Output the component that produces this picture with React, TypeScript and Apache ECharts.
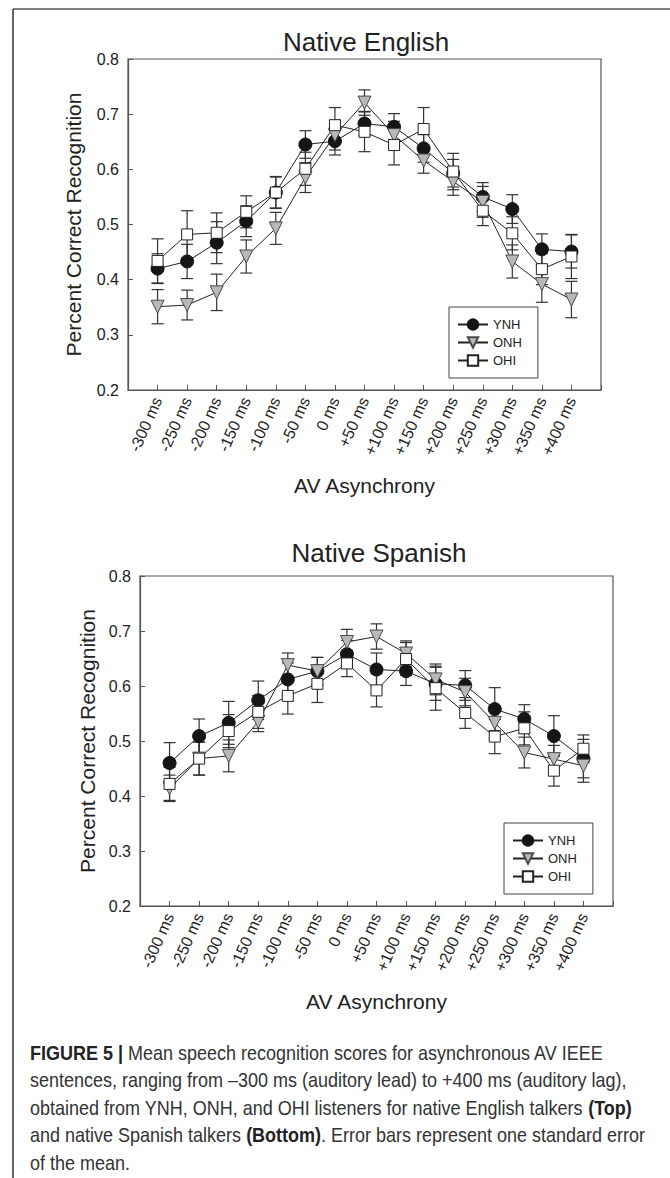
import React, { useEffect, useRef } from "react";
import * as echarts from "echarts";

const categories = ["-300 ms", "-250 ms", "-200 ms", "-150 ms", "-100 ms", "-50 ms", "0 ms", "+50 ms", "+100 ms", "+150 ms", "+200 ms", "+250 ms", "+300 ms", "+350 ms", "+400 ms"];
const groups = ["YNH", "ONH", "OHI"];

// Native English (top)
const engYNH = [0.42, 0.433, 0.467, 0.506, 0.558, 0.645, 0.651, 0.683, 0.677, 0.638, 0.593, 0.55, 0.528, 0.455, 0.451];
const engONH = [0.351, 0.354, 0.377, 0.442, 0.493, 0.585, 0.662, 0.721, 0.662, 0.616, 0.578, 0.541, 0.433, 0.392, 0.364];
const engOHI = [0.434, 0.482, 0.485, 0.523, 0.558, 0.601, 0.68, 0.668, 0.644, 0.673, 0.596, 0.525, 0.484, 0.419, 0.442];
const engYNHse = [0.027, 0.031, 0.038, 0.028, 0.028, 0.025, 0.025, 0.022, 0.024, 0.025, 0.025, 0.026, 0.026, 0.028, 0.03];
const engONHse = [0.031, 0.027, 0.033, 0.03, 0.029, 0.027, 0.027, 0.023, 0.025, 0.023, 0.025, 0.028, 0.03, 0.033, 0.033];
const engOHIse = [0.04, 0.043, 0.036, 0.029, 0.029, 0.03, 0.032, 0.036, 0.036, 0.039, 0.033, 0.027, 0.03, 0.028, 0.04];

// Native Spanish (bottom)
const spaYNH = [0.46, 0.509, 0.533, 0.574, 0.612, 0.627, 0.658, 0.63, 0.627, 0.604, 0.601, 0.558, 0.54, 0.509, 0.468];
const spaONH = [0.414, 0.468, 0.473, 0.535, 0.638, 0.627, 0.68, 0.69, 0.659, 0.612, 0.589, 0.533, 0.479, 0.467, 0.455];
const spaOHI = [0.422, 0.468, 0.518, 0.553, 0.582, 0.604, 0.641, 0.592, 0.649, 0.596, 0.551, 0.508, 0.523, 0.446, 0.486];
const spaYNHse = [0.037, 0.031, 0.039, 0.035, 0.03, 0.025, 0.025, 0.03, 0.026, 0.03, 0.027, 0.039, 0.026, 0.037, 0.035];
const spaONHse = [0.024, 0.03, 0.029, 0.018, 0.022, 0.025, 0.023, 0.023, 0.023, 0.028, 0.025, 0.03, 0.028, 0.025, 0.03];
const spaOHIse = [0.03, 0.03, 0.03, 0.03, 0.033, 0.034, 0.024, 0.03, 0.03, 0.04, 0.028, 0.031, 0.03, 0.028, 0.025];

const FONT = "Liberation Sans, Arial, Helvetica, sans-serif";

const symbolStyles: Record<string, any> = {
  YNH: { symbol: "circle", symbolSize: 13, symbolRotate: 0, itemStyle: { color: "#151515", borderColor: "#151515", borderWidth: 1 } },
  ONH: { symbol: "triangle", symbolSize: 13, symbolRotate: 180, itemStyle: { color: "#b8b8b8", borderColor: "#4a4a4a", borderWidth: 1 } },
  OHI: { symbol: "rect", symbolSize: 11, symbolRotate: 0, itemStyle: { color: "#ffffff", borderColor: "#222", borderWidth: 1 } },
};

function errorSeries(name: string, means: number[], se: number[], axisIndex: number) {
  return {
    type: "custom",
    name: name + " SE",
    xAxisIndex: axisIndex,
    yAxisIndex: axisIndex,
    z: 1,
    silent: true,
    encode: { x: 0, y: 1 },
    data: means.map((m, i) => [i, m, se[i]]),
    renderItem: (params: any, api: any) => {
      const x = api.value(0);
      const m = api.value(1);
      const s = api.value(2);
      const top = api.coord([x, m + s]);
      const bot = api.coord([x, m - s]);
      const hw = 6;
      const st = { stroke: "#333", lineWidth: 1.2 };
      return {
        type: "group",
        children: [
          { type: "line", shape: { x1: top[0], y1: top[1], x2: bot[0], y2: bot[1] }, style: st },
          { type: "line", shape: { x1: top[0] - hw, y1: top[1], x2: top[0] + hw, y2: top[1] }, style: st },
          { type: "line", shape: { x1: bot[0] - hw, y1: bot[1], x2: bot[0] + hw, y2: bot[1] }, style: st },
        ],
      };
    },
  };
}

function lineSeries(name: string, means: number[], axisIndex: number) {
  const s = symbolStyles[name];
  return {
    type: "line",
    name,
    xAxisIndex: axisIndex,
    yAxisIndex: axisIndex,
    z: 3,
    data: means.map((m, i) => [i, m]),
    symbol: s.symbol,
    symbolSize: s.symbolSize,
    symbolRotate: s.symbolRotate,
    itemStyle: s.itemStyle,
    lineStyle: { color: "#222", width: 1 },
    emphasis: { disabled: true },
  };
}

function xAxis(gridIndex: number) {
  return {
    type: "value",
    gridIndex,
    min: -1,
    max: 15,
    interval: 1,
    splitLine: { show: false },
    axisLine: { show: true, onZero: false, lineStyle: { color: "#555", width: 1.2 } },
    axisTick: { show: true, inside: true, length: 5, lineStyle: { color: "#555" } },
    axisLabel: {
      rotate: 66,
      margin: 8,
      fontSize: 16,
      color: "#222",
      fontFamily: FONT,
      formatter: (v: number) => (v >= 0 && v < categories.length ? categories[v] : ""),
    },
    name: "AV Asynchrony",
    nameLocation: "middle",
    nameGap: 85,
    nameTextStyle: { fontSize: 21, color: "#222", fontFamily: FONT },
  };
}

function yAxis(gridIndex: number, gap: number) {
  return {
    type: "value",
    gridIndex,
    min: 0.2,
    max: 0.8,
    interval: 0.1,
    splitLine: { show: false },
    axisLine: { show: true, onZero: false, lineStyle: { color: "#555", width: 1.2 } },
    axisTick: { show: true, inside: true, length: 5, lineStyle: { color: "#555" } },
    axisLabel: { margin: 9, fontSize: 16, color: "#222", fontFamily: FONT, formatter: (v: number) => v.toFixed(1) },
    name: "Percent Correct Recognition",
    nameLocation: "middle",
    nameGap: gap,
    nameTextStyle: { fontSize: 21, color: "#222", fontFamily: FONT },
  };
}

function legend(left: number, top: number) {
  return {
    data: groups,
    orient: "vertical",
    left,
    top,
    borderColor: "#444",
    borderWidth: 1,
    padding: [11, 16, 11, 8],
    itemWidth: 30,
    itemHeight: 13,
    itemGap: 5,
    selectedMode: false,
    textStyle: { fontSize: 13, color: "#222", fontFamily: FONT },
  };
}

const captionLines = [
  "{b|FIGURE 5 |} Mean speech recognition scores for asynchronous AV IEEE",
  "sentences, ranging from –300 ms (auditory lead) to +400 ms (auditory lag),",
  "obtained from YNH, ONH, and OHI listeners for native English talkers {b|(Top)}",
  "and native Spanish talkers {b|(Bottom)}. Error bars represent one standard error",
  "of the mean.",
];

export default function App() {
  const ref = useRef<HTMLDivElement>(null);
  useEffect(() => {
    document.body.style.margin = "0";
    const chart = echarts.init(ref.current!, null, { renderer: "svg" });
    const option: any = {
      animation: false,
      backgroundColor: "#fff",
      title: [
        { text: "Native English", left: 361, top: 37, textAlign: "center", textVerticalAlign: "middle", textStyle: { fontSize: 26, fontWeight: "normal", color: "#222", fontFamily: FONT } },
        { text: "Native Spanish", left: 374, top: 548, textAlign: "center", textVerticalAlign: "middle", textStyle: { fontSize: 26, fontWeight: "normal", color: "#222", fontFamily: FONT } },
      ],
      grid: [
        { left: 128, top: 59, width: 473, height: 331, show: true, borderColor: "#555", borderWidth: 1.2, backgroundColor: "transparent" },
        { left: 140, top: 576, width: 473, height: 330, show: true, borderColor: "#555", borderWidth: 1.2, backgroundColor: "transparent" },
      ],
      xAxis: [xAxis(0), xAxis(1)],
      yAxis: [yAxis(0, 44), yAxis(1, 42)],
      legend: [legend(449, 307), legend(504, 823)],
      series: [
        errorSeries("YNH", engYNH, engYNHse, 0),
        errorSeries("ONH", engONH, engONHse, 0),
        errorSeries("OHI", engOHI, engOHIse, 0),
        lineSeries("YNH", engYNH, 0),
        lineSeries("ONH", engONH, 0),
        lineSeries("OHI", engOHI, 0),
        errorSeries("YNH", spaYNH, spaYNHse, 1),
        errorSeries("ONH", spaONH, spaONHse, 1),
        errorSeries("OHI", spaOHI, spaOHIse, 1),
        lineSeries("YNH", spaYNH, 1),
        lineSeries("ONH", spaONH, 1),
        lineSeries("OHI", spaOHI, 1),
      ],
      graphic: [
        { type: "line", shape: { x1: 13, y1: 9, x2: 670, y2: 9 }, style: { stroke: "#555", lineWidth: 1.5 } },
        { type: "line", shape: { x1: 13, y1: 9, x2: 13, y2: 1178 }, style: { stroke: "#333", lineWidth: 1.5 } },
        ...captionLines.map((t, i) => ({
          type: "text",
          x: 30,
          y: 1053 + i * 27.5,
          scaleX: 0.9,
          style: {
            text: t,
            fontSize: 20,
            fontFamily: FONT,
            fill: "#333",
            verticalAlign: "middle",
            align: "left",
            rich: { b: { fontWeight: "bold", fontSize: 20, fontFamily: FONT, fill: "#222" } },
          },
        })),
      ],
    };
    chart.setOption(option);
    return () => chart.dispose();
  }, []);
  return <div ref={ref} style={{ width: 670, height: 1178 }} />;
}
